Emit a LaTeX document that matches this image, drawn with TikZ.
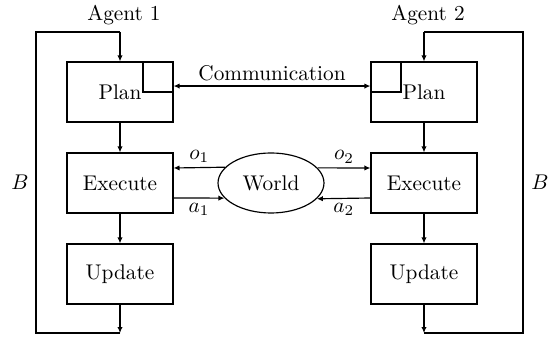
\documentclass[tikz,border=0pt]{standalone}
\usetikzlibrary{shapes.geometric,arrows.meta}
\begin{document}
\begin{tikzpicture}[x=0.47pt,y=-0.47pt, line width=0.55pt,
  box/.style={draw, minimum width=49.8pt, minimum height=28.2pt, inner sep=0pt},
  sq/.style={draw, minimum size=14.1pt, inner sep=0pt},
  arr/.style={-{Latex[length=2.8pt,width=2.5pt]}},
  barr/.style={{Latex[length=2.8pt,width=2.5pt]}-{Latex[length=2.8pt,width=2.5pt]}},
  lbl/.style={inner sep=2pt}]
\useasboundingbox (0,0) rectangle (548,340);
% agent 1
\node[box] (p1) at (120,92) {Plan};
\node[sq, anchor=north east] (s1) at (p1.north east) {};
\node[box] (e1) at (120,183) {Execute};
\node[box] (u1) at (120,274) {Update};
% agent 2
\node[box] (p2) at (424,92) {Plan};
\node[sq, anchor=north west] (s2) at (p2.north west) {};
\node[box] (e2) at (424,183) {Execute};
\node[box] (u2) at (424,274) {Update};
% world
\node[draw, ellipse, minimum width=49.8pt, minimum height=28.2pt, inner sep=0pt] (w) at (271,183) {World};
% labels
\node (ag1) at (124,15) {Agent 1};
\node (ag2) at (428,15) {Agent 2};
\node (b1) at (20,182) {$B$};
\node (b2) at (540,182) {$B$};
% loop coordinates
\coordinate (t1) at (120,32);
\coordinate (d1) at (120,333);
\coordinate (k1) at (36,182);
\coordinate (t2) at (424,32);
\coordinate (d2) at (424,333);
\coordinate (k2) at (523,182);
% vertical flow
\draw[arr] (p1) -- (e1);
\draw[arr] (e1) -- (u1);
\draw[arr] (u1) -- (d1);
\draw (d1) -| (k1) |- (t1);
\draw[arr] (t1) -- (p1);
\draw[arr] (p2) -- (e2);
\draw[arr] (e2) -- (u2);
\draw[arr] (u2) -- (d2);
\draw (d2) -| (k2) |- (t2);
\draw[arr] (t2) -- (p2);
% communication
\draw[barr] ([yshift=2.8pt]p1.east) -- node[above, lbl] {Communication} ([yshift=2.8pt]p2.west);
% world interactions
\draw[arr] (w.161.9) -- node[above, lbl] {$o_1$} ([yshift=7.05pt]e1.east);
\draw[arr] ([yshift=-7.05pt]e1.east) -- node[below, lbl] {$a_1$} (w.198.1);
\draw[arr] (w.18.1) -- node[above, lbl] {$o_2$} ([yshift=7.05pt]e2.west);
\draw[arr] ([yshift=-7.05pt]e2.west) -- node[below, lbl] {$a_2$} (w.341.9);
\end{tikzpicture}
\end{document}
